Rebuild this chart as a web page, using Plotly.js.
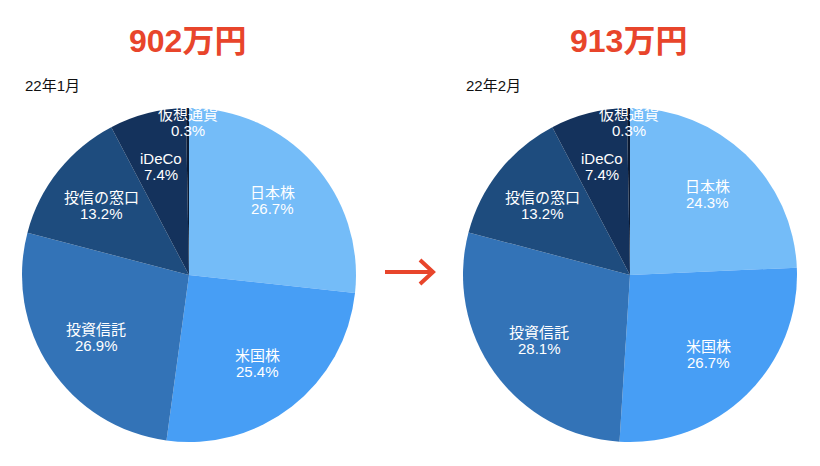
<!DOCTYPE html>
<html>
<head>
<meta charset="utf-8">
<script src="https://cdn.plot.ly/plotly-3.0.1.min.js"></script>
<style>
  html, body { margin: 0; padding: 0; background: #ffffff; }
  #chart { width: 820px; height: 466px; }
</style>
</head>
<body>
<div id="chart"></div>
<script>
// Asset categories, clockwise from 12 o'clock
const categories = ["日本株", "米国株", "投資信託", "投信の窓口", "iDeCo", "仮想通貨"];
// Share of total assets (%) per month
const janValues = [26.7, 25.4, 26.9, 13.2, 7.4, 0.3];
const febValues = [24.3, 26.7, 28.1, 13.2, 7.4, 0.3];
// Headline totals and month captions
const totals = ["902万円", "913万円"];
const months = ["22年1月", "22年2月"];

const sliceColors = ["#74bcf8", "#479ef5", "#3373b7", "#1e4c7e", "#14325c", "#0b1a33"];
const FONT = "Liberation Sans, Arial, Noto Sans CJK JP, sans-serif";

const W = 820, H = 466;
const R = 167, CY = 275;
const centersX = [189, 630];

const px = x => x / W;
const py = y => 1 - y / H;

function pieTrace(values, cx) {
  return {
    type: "pie",
    labels: categories,
    values: values,
    sort: false,
    direction: "clockwise",
    rotation: 0,
    marker: { colors: sliceColors, line: { width: 0 } },
    textinfo: "none",
    hoverinfo: "none",
    showlegend: false,
    domain: { x: [px(cx - R), px(cx + R)], y: [py(CY + R), py(CY - R)] }
  };
}

function textAt(x, y, text) {
  return {
    xref: "paper", yref: "paper",
    x: px(x), y: py(y),
    xanchor: "center", yanchor: "middle",
    showarrow: false,
    text: text,
    font: { family: FONT, size: 15, color: "#ffffff" }
  };
}

// Slice captions (name + share) placed along each slice's mid-angle
function sliceLabels(values, cx) {
  const total = values.reduce((a, b) => a + b, 0);
  let cum = 0;
  const out = [];
  values.forEach((v, i) => {
    const mid = (cum + v / 2) / total;
    cum += v;
    const th = 2 * Math.PI * mid;
    const k = v < 2 ? 0.915 : 0.67;
    const x = cx + R * k * Math.sin(th);
    const y = CY - R * k * Math.cos(th);
    out.push(textAt(x, y - 8, categories[i]));
    out.push(textAt(x, y + 8, v.toFixed(1) + "%"));
  });
  return out;
}

const annotations = [];
[janValues, febValues].forEach((vals, j) => {
  const cx = centersX[j];
  annotations.push(...sliceLabels(vals, cx));
  annotations.push({
    xref: "paper", yref: "paper",
    x: px(cx - 2), y: py(41),
    xanchor: "center", yanchor: "middle", showarrow: false,
    text: "<b>" + totals[j] + "</b>",
    font: { family: FONT, size: 32, color: "#e8452b" }
  });
  annotations.push({
    xref: "paper", yref: "paper",
    x: px(cx - R + 1), y: py(86),
    xanchor: "left", yanchor: "middle", showarrow: false,
    text: months[j],
    font: { family: FONT, size: 15, color: "#111111" }
  });
});

// Arrow between the two months
const arrowPath =
  "M " + px(385) + "," + py(272) + " L " + px(432) + "," + py(272) +
  " M " + px(420) + "," + py(260) + " L " + px(433) + "," + py(272) +
  " L " + px(420) + "," + py(284);

const layout = {
  width: W, height: H,
  margin: { l: 0, r: 0, t: 0, b: 0 },
  paper_bgcolor: "#ffffff",
  plot_bgcolor: "#ffffff",
  showlegend: false,
  annotations: annotations,
  shapes: [{
    type: "path", xref: "paper", yref: "paper",
    path: arrowPath,
    line: { color: "#e8452b", width: 4 }
  }]
};

Plotly.newPlot("chart", [pieTrace(janValues, centersX[0]), pieTrace(febValues, centersX[1])], layout, { displayModeBar: false, staticPlot: true });
</script>
</body>
</html>
